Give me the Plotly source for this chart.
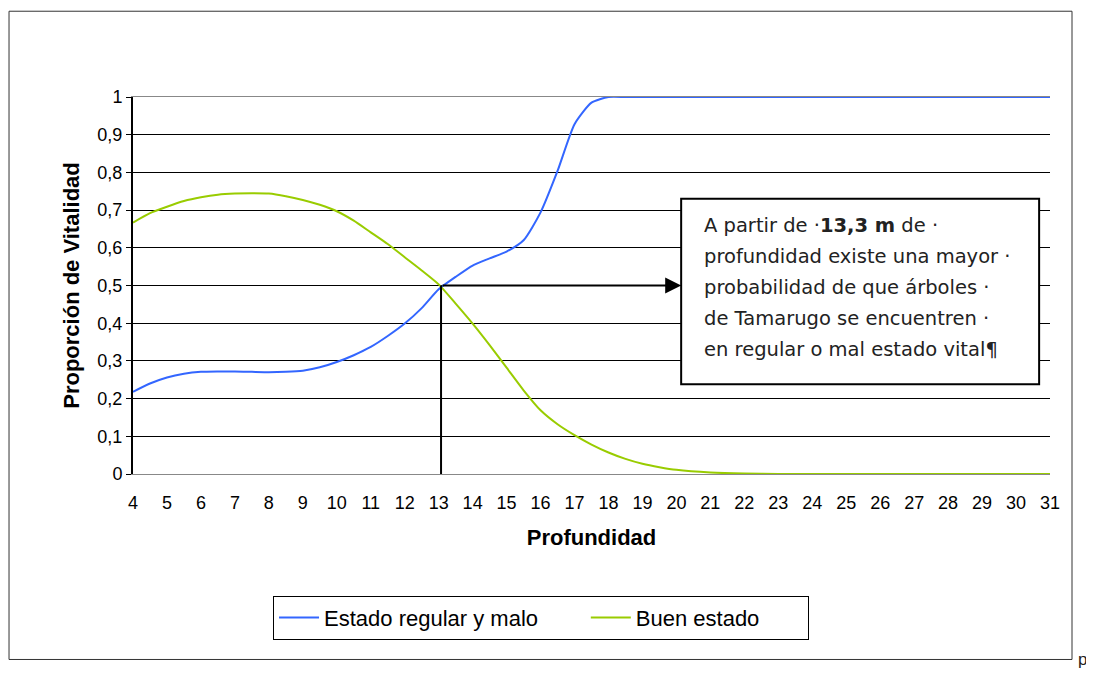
import plotly.graph_objects as go

# Profundidad (m) and proportions
depth = [4, 4.5, 5, 5.5, 6, 6.5, 7, 7.5, 8, 8.5, 9, 9.5, 10, 10.5, 11, 11.5, 12, 12.5,
         13, 13.5, 14, 14.5, 15, 15.5, 16, 16.5, 17, 17.5, 18, 18.5, 19, 19.5, 20,
         21, 22, 23, 24, 25, 26, 27, 28, 29, 30, 31]

regular_malo = [0.218, 0.240, 0.256, 0.266, 0.271, 0.272, 0.272, 0.271, 0.270, 0.271,
                0.274, 0.283, 0.297, 0.315, 0.337, 0.366, 0.399, 0.440, 0.490, 0.523,
                0.553, 0.572, 0.590, 0.620, 0.694, 0.804, 0.928, 0.985, 1.0, 1.0, 1.0,
                1.0, 1.0, 1.0, 1.0, 1.0, 1.0, 1.0, 1.0, 1.0, 1.0, 1.0, 1.0, 1.0]

buen_estado = [0.667, 0.692, 0.709, 0.724, 0.734, 0.741, 0.744, 0.745, 0.744, 0.737,
               0.727, 0.714, 0.697, 0.672, 0.641, 0.610, 0.575, 0.540, 0.503, 0.452,
               0.399, 0.342, 0.282, 0.222, 0.169, 0.132, 0.103, 0.078, 0.057, 0.040,
               0.027, 0.018, 0.011, 0.004, 0.001, 0, 0, 0, 0, 0, 0, 0, 0, 0]

x_ticks = list(range(4, 32))

# crossing point marked on the chart
cross_x = 13.07
cross_y = 0.5

box_lines = [
    "A partir de ·<b>13,3 m</b> de ·",
    "profundidad existe una mayor ·",
    "probabilidad de que árboles ·",
    "de Tamarugo se encuentren ·",
    "en regular o mal estado vital¶",
]

pad = "\u00a0"  # keeps the wider legend spacing of the original

fig = go.Figure()
fig.add_trace(go.Scatter(x=depth, y=regular_malo, mode="lines",
                         name="Estado regular y malo" + pad * 7,
                         line=dict(color="#3366FF", width=2, shape="spline", smoothing=0.6)))
fig.add_trace(go.Scatter(x=depth, y=buen_estado, mode="lines",
                         name="Buen estado" + pad * 7,
                         line=dict(color="#99CC00", width=2, shape="spline", smoothing=0.6)))

# outer chart frame
fig.add_shape(type="rect", xref="paper", yref="paper", x0=-0.1352, x1=1.024, y0=-0.492, y1=1.2275,
              line=dict(color="#333333", width=1))

# vertical marker line and arrow to the text box
fig.add_shape(type="line", x0=cross_x, x1=cross_x, y0=-0.008, y1=cross_y,
              line=dict(color="black", width=2))
fig.add_annotation(x=20.14, y=cross_y, ax=cross_x, ay=cross_y, axref="x", ayref="y",
                   showarrow=True, arrowhead=2, arrowsize=1.6, arrowwidth=2, arrowcolor="black",
                   text="")

# text box
fig.add_shape(type="rect", x0=20.14, x1=30.68, y0=0.238, y1=0.730,
              line=dict(color="black", width=2), fillcolor="white", layer="above")
line_y = [0.659, 0.577, 0.495, 0.413, 0.331]
for t, yy in zip(box_lines, line_y):
    fig.add_annotation(x=20.75, y=yy, text=t, showarrow=False, xanchor="left", yanchor="middle",
                       font=dict(family="DejaVu Sans", size=19.5, color="#222222"))

# stray character outside the chart frame
fig.add_annotation(xref="paper", yref="paper", x=1.043, y=-0.522, text="p", showarrow=False,
                   font=dict(family="Liberation Sans", size=17, color="#222222"))

fig.update_layout(
    width=1094, height=673,
    margin=dict(l=125, r=52, t=89, b=207),
    paper_bgcolor="white", plot_bgcolor="white",
    separators=",.",
    font=dict(family="Liberation Sans", color="black", size=18),
    showlegend=True,
    legend=dict(orientation="h", x=0.1527, y=-0.3228, xanchor="left", yanchor="top",
                bordercolor="black", borderwidth=1, bgcolor="white",
                font=dict(size=22, family="Liberation Sans"), itemwidth=40,
                tracegroupgap=0),
)

fig.update_xaxes(range=[4, 31], tickvals=x_ticks, ticktext=[str(v) for v in x_ticks],
                 showgrid=False, zeroline=False, showline=True, linecolor="#888888",
                 linewidth=1, mirror=True, ticks="", ticklabelstandoff=12,
                 tickfont=dict(size=18), layer="below traces",
                 title=dict(text="<b>Profundidad</b>", font=dict(size=22), standoff=18))
fig.update_yaxes(range=[0, 1], dtick=0.1, tick0=0, showgrid=True, gridcolor="black",
                 gridwidth=1, zeroline=False, showline=True, linecolor="black", linewidth=2,
                 ticks="outside", ticklen=5, tickcolor="black", layer="below traces",
                 tickfont=dict(size=18),
                 title=dict(text="<b>Proporción de Vitalidad</b>", font=dict(size=22), standoff=12))

fig.write_html("out.html")
